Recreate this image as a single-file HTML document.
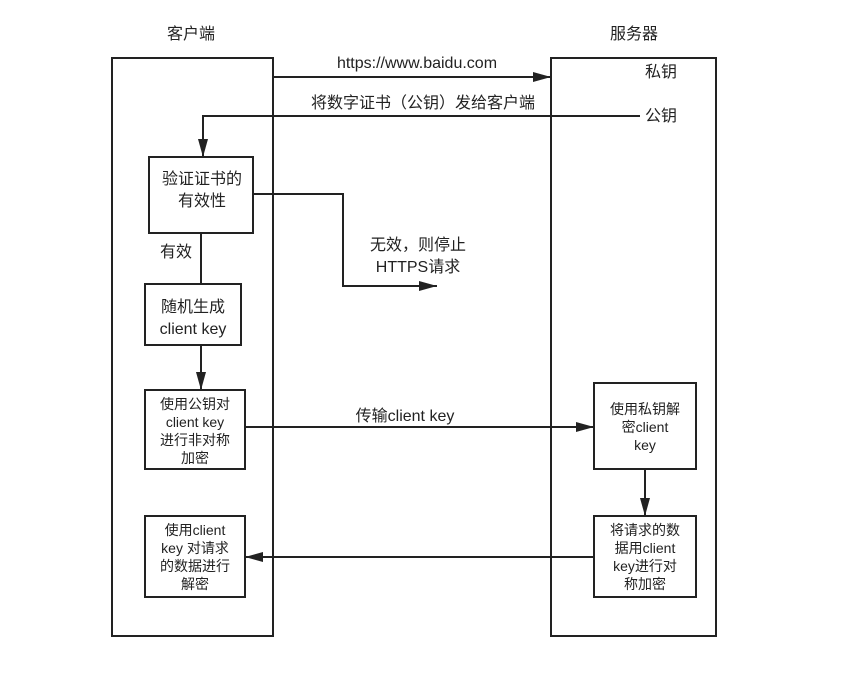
<!DOCTYPE html>
<html><head><meta charset="utf-8"><style>
body{margin:0;background:#fff}
svg text{font-family:"Liberation Sans","Noto Sans CJK SC",sans-serif;fill:#222}
</style></head><body>
<svg width="865" height="683" viewBox="0 0 865 683" xmlns="http://www.w3.org/2000/svg">
<defs>
<marker id="b" markerWidth="18" markerHeight="10" refX="18" refY="5" orient="auto" markerUnits="userSpaceOnUse"><path d="M0,0 L18,5 L0,10 z" fill="#222"/></marker></defs>
<g stroke="#222" stroke-width="2" fill="none">
<rect x="112" y="58" width="161" height="578"/>
<rect x="551" y="58" width="165" height="578"/>
<rect x="149" y="157" width="104" height="76"/>
<rect x="145" y="284" width="96" height="61"/>
<rect x="145" y="390" width="100" height="79"/>
<rect x="145" y="516" width="100" height="81"/>
<rect x="594" y="383" width="102" height="86"/>
<rect x="594" y="516" width="102" height="81"/>
<line x1="273" y1="77" x2="551" y2="77" marker-end="url(#b)"/>
<polyline points="640,116 203,116 203,157" marker-end="url(#b)"/>
<polyline points="253,194 343,194 343,286 437,286" marker-end="url(#b)"/>
<line x1="201" y1="233" x2="201" y2="284"/>
<line x1="201" y1="345" x2="201" y2="390" marker-end="url(#b)"/>
<line x1="245" y1="427" x2="594" y2="427" marker-end="url(#b)"/>
<line x1="645" y1="469" x2="645" y2="516" marker-end="url(#b)"/>
<line x1="594" y1="557" x2="245" y2="557" marker-end="url(#b)"/>
</g>
<g font-size="16" text-anchor="middle">
<text x="191" y="39">客户端</text>
<text x="634" y="39">服务器</text>
<text x="417" y="68">https://www.baidu.com</text>
<text x="423" y="108">将数字证书（公钥）发给客户端</text>
<text x="661" y="77">私钥</text>
<text x="661" y="121">公钥</text>
<text x="202" y="184">验证证书的</text>
<text x="202" y="206">有效性</text>
<text x="418" y="250">无效，则停止</text>
<text x="418" y="272">HTTPS请求</text>
<text x="176" y="257">有效</text>
<text x="193" y="312">随机生成</text>
<text x="193" y="334">client key</text>
<text x="405" y="421">传输client key</text>
</g>
<g font-size="14" text-anchor="middle">
<text x="195" y="409">使用公钥对</text>
<text x="195" y="427">client key</text>
<text x="195" y="445">进行非对称</text>
<text x="195" y="463">加密</text>
<text x="195" y="535">使用client</text>
<text x="195" y="553">key 对请求</text>
<text x="195" y="571">的数据进行</text>
<text x="195" y="589">解密</text>
<text x="645" y="414">使用私钥解</text>
<text x="645" y="432">密client</text>
<text x="645" y="450">key</text>
<text x="645" y="535">将请求的数</text>
<text x="645" y="553">据用client</text>
<text x="645" y="571">key进行对</text>
<text x="645" y="589">称加密</text>
</g>
</svg>
</body></html>
